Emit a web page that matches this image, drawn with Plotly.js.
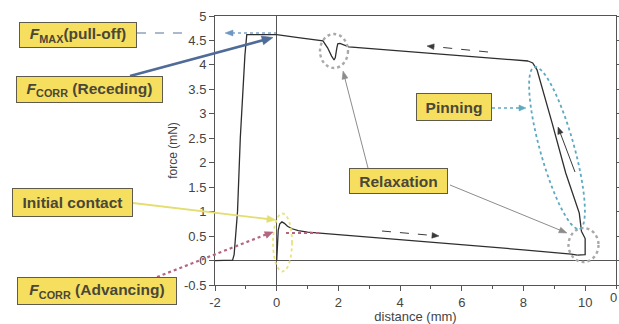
<!DOCTYPE html>
<html>
<head>
<meta charset="utf-8">
<script src="https://cdn.plot.ly/plotly-3.0.1.min.js"></script>
<style>
  html, body { margin: 0; padding: 0; background: #ffffff; }
  #chart { width: 619px; height: 324px; }
</style>
</head>
<body>
<div id="chart"></div>
<script>
// Force–distance loop of a sliding contact (advancing, pinning, receding, pull-off)

// Advancing stroke: initial contact at 0 mm, then sliding out to ~9.8 mm
const advancingDist  = [0, 0.02, 0.05, 0.1, 0.17, 0.25, 0.35, 0.5, 0.7, 1.0, 1.4, 3.0, 6.1, 8.0, 9.55, 9.75];
const advancingForce = [0, 0.35, 0.62, 0.75, 0.79, 0.76, 0.70, 0.65, 0.61, 0.58, 0.56, 0.47, 0.32, 0.22, 0.13, 0.11];

// Stop / relaxation at the end of the stroke, then the pinned rise on reversal
const turnDist  = [9.75, 10.0, 10.0, 9.88, 9.81, 9.37, 8.93, 8.6, 8.44, 8.3, 8.15];
const turnForce = [0.11, 0.12, 0.45, 0.60, 0.97, 1.79, 2.81, 3.55, 3.90, 4.04, 4.08];

// Receding stroke back towards 0 mm, with the relaxation dip near 1.9 mm
const recedingDist  = [8.15, 5.0, 2.34, 2.05, 1.98, 1.95, 1.9, 1.86, 1.78, 1.65, 1.5, 0.7, 0.3, 0.0];
const recedingForce = [4.08, 4.24, 4.37, 4.44, 4.43, 4.35, 4.15, 4.10, 4.18, 4.35, 4.49, 4.56, 4.60, 4.62];

// Pull-off plateau and detachment
const pulloffDist  = [0.0, -0.97, -1.03, -1.1, -1.18, -1.27, -1.33, -1.38, -1.43, -2.0];
const pulloffForce = [4.62, 4.62, 4.2, 3.5, 2.5, 1.0, 0.45, 0.12, 0.01, 0.0];

// Axes
const xTickVals = [-2, 0, 2, 4, 6, 8, 10];
const xTickText = ['-2', '0', '2', '4', '6', '8', '10'];
const yTickVals = [-0.5, 0, 0.5, 1, 1.5, 2, 2.5, 3, 3.5, 4, 4.5, 5];
const yTickText = ['-0.5', '0', '0.5', '1', '1.5', '2', '2.5', '3', '3.5', '4', '4.5', '5'];

// Callout labels
const labelTexts = [
  '<i>F</i><sub>MAX</sub>(pull-off)',
  '<i>F</i><sub>CORR</sub> (Receding)',
  'Initial contact',
  '<i>F</i><sub>CORR</sub> (Advancing)',
  'Relaxation',
  'Pinning'
];

// ---- page geometry (pixels) ----
const W = 619, H = 324;
const M = { l: 215, r: 3, t: 16, b: 39 };
const PW = W - M.l - M.r, PH = H - M.t - M.b;
const px = (x) => (x - M.l) / PW;            // pixel -> paper x
const py = (y) => (H - M.b - y) / PH;        // pixel -> paper y

const FONT = 'Liberation Sans, Arial, Helvetica, sans-serif';
const LINE = '#2e2e2e';
const AX = '#555555';

const curveStyle = { color: LINE, width: 1.3 };
const traces = [
  { x: advancingDist, y: advancingForce },
  { x: turnDist, y: turnForce },
  { x: recedingDist, y: recedingForce },
  { x: pulloffDist, y: pulloffForce }
].map(t => Object.assign(t, {
  type: 'scatter', mode: 'lines', line: curveStyle, hoverinfo: 'skip', showlegend: false
}));

const shapes = [];
const annotations = [];

function seg(x0, y0, x1, y1, color, width, dash) {
  shapes.push({ type: 'line', xref: 'paper', yref: 'paper',
    x0: px(x0), y0: py(y0), x1: px(x1), y1: py(y1),
    line: { color: color, width: width, dash: dash || 'solid' } });
}
// filled triangular arrowhead with its tip at (tx, ty), pointing away from (fx, fy)
function head(tx, ty, fx, fy, color, len, half) {
  len = len || 8; half = half || 3.5;
  const dx = fx - tx, dy = fy - ty, d = Math.hypot(dx, dy) || 1;
  const ux = dx / d, uy = dy / d;
  const bx = tx + ux * len, by = ty + uy * len;
  const p1 = [bx - uy * half, by + ux * half];
  const p2 = [bx + uy * half, by - ux * half];
  const path = 'M' + px(tx) + ',' + py(ty) +
    ' L' + px(p1[0]) + ',' + py(p1[1]) +
    ' L' + px(p2[0]) + ',' + py(p2[1]) + ' Z';
  shapes.push({ type: 'path', xref: 'paper', yref: 'paper', path: path,
    fillcolor: color, line: { color: color, width: 0.5 } });
}
function arrow(fx, fy, tx, ty, color, width, len, half) {
  const dx = fx - tx, dy = fy - ty, d = Math.hypot(dx, dy);
  const back = (len || 8) * 0.7;
  seg(fx, fy, tx + dx / d * back, ty + dy / d * back, color, width);
  head(tx, ty, fx, fy, color, len, half);
}
function ring(cx, cy, rx, ry, color, width) {
  shapes.push({ type: 'circle', xref: 'paper', yref: 'paper',
    x0: px(cx - rx), x1: px(cx + rx), y0: py(cy + ry), y1: py(cy - ry),
    line: { color: color, width: width, dash: 'dot' } });
}
function tiltedRing(cx, cy, a, b, ux, uy, color, width) {
  const vx = uy, vy = -ux;
  let d = '';
  for (let i = 0; i <= 72; i++) {
    const t = i / 72 * 2 * Math.PI;
    const x = cx + a * Math.cos(t) * ux + b * Math.sin(t) * vx;
    const y = cy + a * Math.cos(t) * uy + b * Math.sin(t) * vy;
    d += (i === 0 ? 'M' : 'L') + px(x).toFixed(5) + ',' + py(y).toFixed(5) + ' ';
  }
  shapes.push({ type: 'path', xref: 'paper', yref: 'paper', path: d + 'Z',
    line: { color: color, width: width, dash: 'dot' } });
}
function box(i, cx, cy, w, h) {
  annotations.push({ xref: 'paper', yref: 'paper', x: px(cx), y: py(cy),
    xanchor: 'center', yanchor: 'middle', showarrow: false,
    text: '<b>' + labelTexts[i] + '</b>',
    width: w - 2, height: h - 2, borderpad: 0, align: 'center', valign: 'middle',
    bgcolor: '#f6df5e', bordercolor: '#5e5b4c', borderwidth: 1,
    font: { family: FONT, size: 15.5, color: '#4a4738' } });
}

// F_MAX (pull-off) level
seg(137, 33, 187, 33, '#8ea3bb', 1.3, 'dash');
seg(232, 33, 276, 33, '#7ea3c8', 1.5, 'dot');
head(225, 33, 240, 33, '#6f97c4', 8, 3);

// F_CORR (Receding)
arrow(130, 76, 273, 37.5, '#4f6b98', 2.6, 11, 4.5);

// Initial contact
arrow(133, 203, 276, 220, '#e4de72', 1.8, 9, 3.5);
ring(282.5, 242.5, 9.5, 29, '#e8e37e', 1.8);

// F_CORR (Advancing)
seg(157, 277, 266, 234.5, '#b3667e', 2.2, 'dot');
head(273, 232, 157, 277, '#b3667e', 8, 3.5);
seg(286, 233, 322, 233, '#b3667e', 2, 'dot');

// Relaxation
ring(334, 51, 14, 17, '#a9a9a9', 2.4);
ring(583.5, 245, 15, 17, '#a9a9a9', 2.4);
arrow(450, 185, 567, 233, '#8c8c8c', 1, 8, 3);
arrow(368, 168, 343, 71, '#8c8c8c', 1, 8, 3);

// Pinning
tiltedRing(557, 148, 84, 17, 0.269, 0.964, '#5ea8c2', 1.8);
seg(492, 108, 520, 108, '#5ea8c2', 1.6, 'dot');
head(526, 108, 492, 108, '#5ea8c2', 7, 3);

// Travel direction
seg(488, 52, 433, 46.5, '#3a3a3a', 1, 'dash');
head(427, 46, 488, 52, '#3a3a3a', 7, 2.8);
seg(382, 231, 433, 235.5, '#3a3a3a', 1, 'dash');
head(439, 236, 382, 231, '#3a3a3a', 7, 2.8);
arrow(575, 172, 558, 127, '#3a3a3a', 1, 7, 2.8);

// Callout boxes
box(0, 78, 35, 118, 26);
box(1, 89.5, 89.5, 147, 27);
box(2, 72.5, 202.5, 121, 29);
box(3, 97, 291, 160, 28);
box(4, 398.5, 181, 99, 26);
box(5, 454, 107, 76, 28);

// tick label of the neighbouring axis at the page edge
annotations.push({ xref: 'paper', yref: 'paper', x: px(619), y: py(297),
  xanchor: 'right', yanchor: 'middle', showarrow: false, text: '0',
  font: { family: FONT, size: 13, color: '#444' } });

const layout = {
  width: W, height: H,
  margin: M,
  paper_bgcolor: '#ffffff', plot_bgcolor: '#ffffff',
  font: { family: FONT, size: 13, color: '#444' },
  showlegend: false,
  xaxis: {
    range: [-2, 11], tickmode: 'array', tickvals: xTickVals, ticktext: xTickText,
    showgrid: false, zeroline: true, zerolinecolor: AX, zerolinewidth: 1,
    showline: true, linecolor: AX, linewidth: 1, mirror: true,
    ticks: 'outside', ticklen: 5, tickcolor: AX,
    minor: { tickmode: 'linear', tick0: -2, dtick: 1, ticks: 'outside', ticklen: 3, tickcolor: AX },
    tickfont: { family: FONT, size: 13, color: '#444' },
    title: { text: 'distance (mm)', font: { family: FONT, size: 13, color: '#444' }, standoff: 4 }
  },
  yaxis: {
    range: [-0.5, 5], tickmode: 'array', tickvals: yTickVals, ticktext: yTickText,
    showgrid: false, zeroline: true, zerolinecolor: AX, zerolinewidth: 1,
    showline: true, linecolor: AX, linewidth: 1, mirror: 'ticks',
    ticks: 'outside', ticklen: 5, tickcolor: AX,
    tickfont: { family: FONT, size: 13, color: '#444' },
    title: { text: 'force (mN)', font: { family: FONT, size: 12, color: '#444' }, standoff: 3 }
  },
  shapes: shapes,
  annotations: annotations
};

Plotly.newPlot('chart', traces, layout, { staticPlot: true, displayModeBar: false });
</script>
</body>
</html>
